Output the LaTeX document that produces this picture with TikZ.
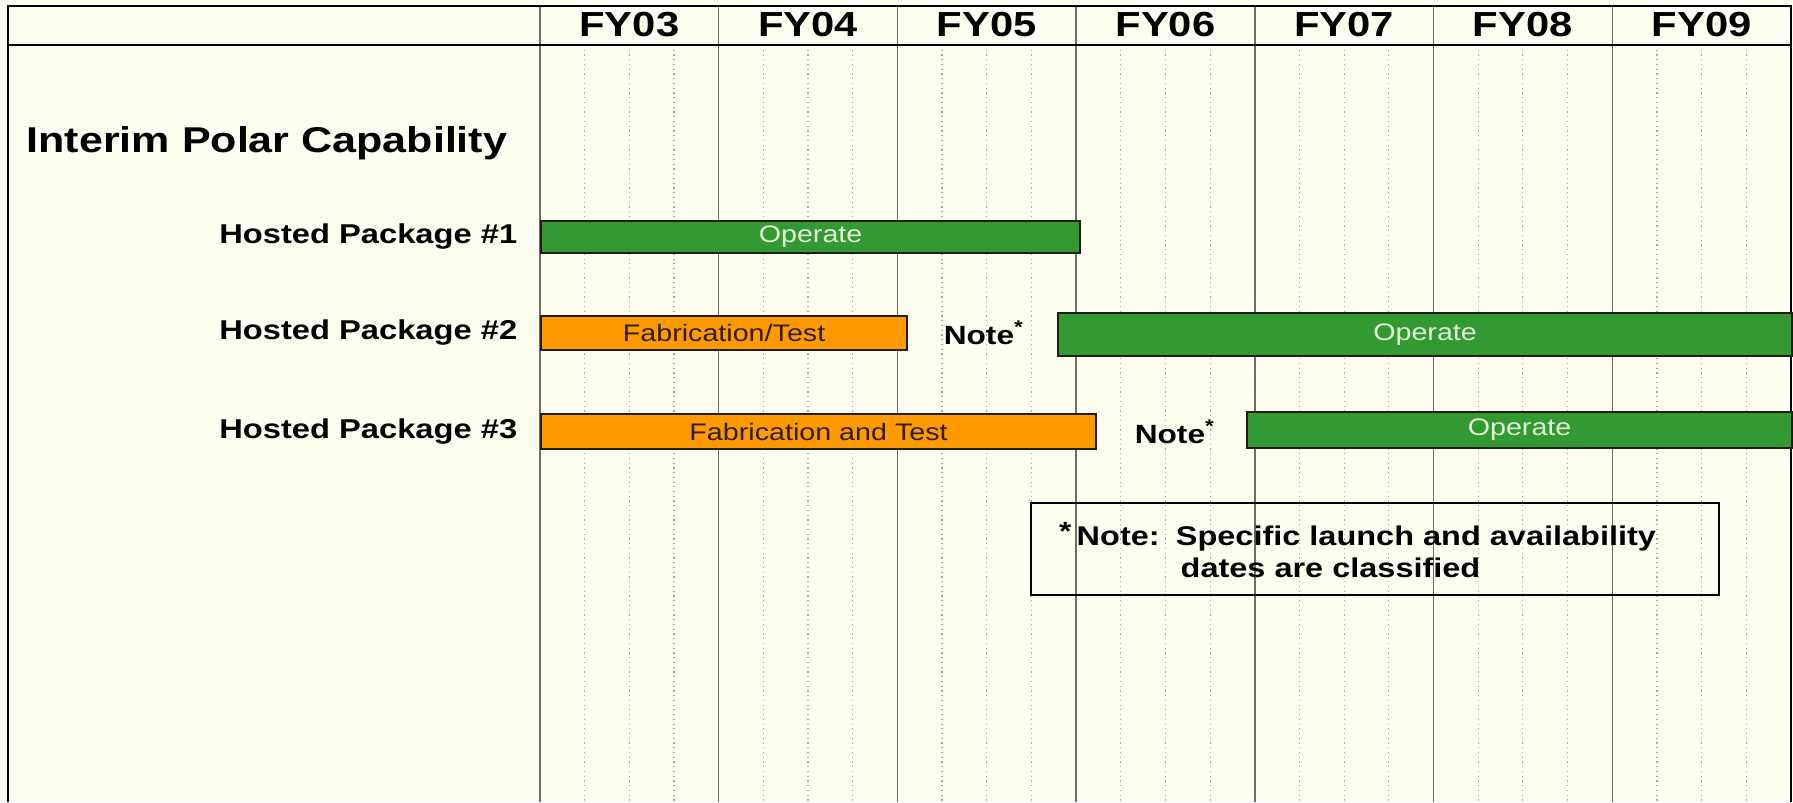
\documentclass[tikz,border=0pt]{standalone}
\usepackage{fontspec}
\setmainfont{Liberation Sans}[FakeStretch=1.2]
\usetikzlibrary{positioning}
\definecolor{chartPaper}{RGB}{254,254,240}
\definecolor{barGreen}{RGB}{51,153,51}
\definecolor{barOrange}{RGB}{255,153,0}
\definecolor{barEdge}{RGB}{30,30,20}
\definecolor{yearLine}{RGB}{110,110,100}
\definecolor{quarterLine}{RGB}{170,170,160}
\definecolor{paleInk}{RGB}{225,240,215}
\definecolor{darkInk}{RGB}{45,30,10}
\tikzset{
  bar/.style={draw=barEdge, line width=0.6pt, anchor=west, inner sep=0pt, font=\fontsize{6.8}{8}\selectfont},
  greenbar/.style={bar, fill=barGreen, text=paleInk},
  orangebar/.style={bar, fill=barOrange, text=darkInk},
  rowlabel/.style={anchor=east, inner sep=0pt, font=\fontsize{7.75}{9}\selectfont\bfseries},
  yearlabel/.style={inner sep=0pt, font=\fontsize{9.9}{12}\selectfont\bfseries},
  notemark/.style={inner sep=0pt, font=\fontsize{7.5}{9}\selectfont\bfseries},
  notetext/.style={inner sep=0pt, font=\fontsize{7.7}{9}\selectfont\bfseries},
  notebox/.style={draw=black, line width=0.6pt, minimum width=6.88cm, minimum height=0.92cm, inner sep=0pt},
  frame/.style={draw=black, line width=0.8pt},
  yearrule/.style={draw=yearLine, line width=0.4pt},
  quarterrule/.style={draw=quarterLine, line width=0.35pt, densely dotted}
}

\begin{document}
\begin{tikzpicture}
  \fill[chartPaper] (0,0) rectangle (17.93,8.02);
  \useasboundingbox (0,0) rectangle (17.93,8.02);
  % grid: quarters dotted, years solid
  \foreach \i in {0,...,6} {
    \foreach \q in {1,2,3}
      \draw[quarterrule] ({5.40+\i*1.787+\q*0.4468},7.57) -- ++(0,-7.57);
    \draw[yearrule] ({5.40+\i*1.787},7.96) -- ({5.40+\i*1.787},0);
  }
  \draw[frame] (0.08,0) -- (0.08,7.96) -- (17.91,7.96) -- (17.91,0);
  \draw[frame] (0.08,7.57) -- (17.91,7.57);
  \foreach \yr [count=\i from 0] in {FY03,FY04,FY05,FY06,FY07,FY08,FY09}
    \node[yearlabel] (fy\i) at ({5.40+\i*1.787+0.8935},7.775) {\yr};

  \node[anchor=west, inner sep=0pt, font=\fontsize{10.2}{12}\selectfont\bfseries] (title) at (0.26,6.59) {Interim Polar Capability};

  \node[greenbar, minimum width=5.39cm, minimum height=0.32cm] (op1) at (5.40,5.65) {Operate};
  \node[rowlabel, left=0.22cm of op1] (pkg1) {Hosted Package \#1};

  \node[orangebar, minimum width=3.66cm, minimum height=0.34cm] (fab2) at (5.40,4.69) {Fabrication/Test};
  \node[rowlabel, left=0.22cm of fab2] (pkg2) {Hosted Package \#2};
  \node[notemark, right=0.35cm of fab2] (note2) {Note\textsuperscript{*}};
  \node[greenbar, minimum width=7.34cm, minimum height=0.43cm] (op2) at (10.57,4.675) {Operate};

  \node[orangebar, minimum width=5.55cm, minimum height=0.35cm] (fab3) at (5.40,3.705) {Fabrication and Test};
  \node[rowlabel, left=0.22cm of fab3] (pkg3) {Hosted Package \#3};
  \node[notemark, right=0.37cm of fab3] (note3) {Note\textsuperscript{*}};
  \node[greenbar, minimum width=5.45cm, minimum height=0.36cm] (op3) at (12.46,3.72) {Operate};

  % classified note
  \node[notebox] (notebox) at (13.75,2.53) {};
  \node[notetext, anchor=west] (noteA) at (10.76,2.63) {Note:\hspace{0.6em}Specific launch and availability};
  \node[notemark, anchor=east] (notestar) at ([xshift=-0.04cm, yshift=0.08cm]noteA.west) {*};
  \node[notetext, anchor=west] (noteB) at (11.80,2.34) {dates are classified};
\end{tikzpicture}
\end{document}
